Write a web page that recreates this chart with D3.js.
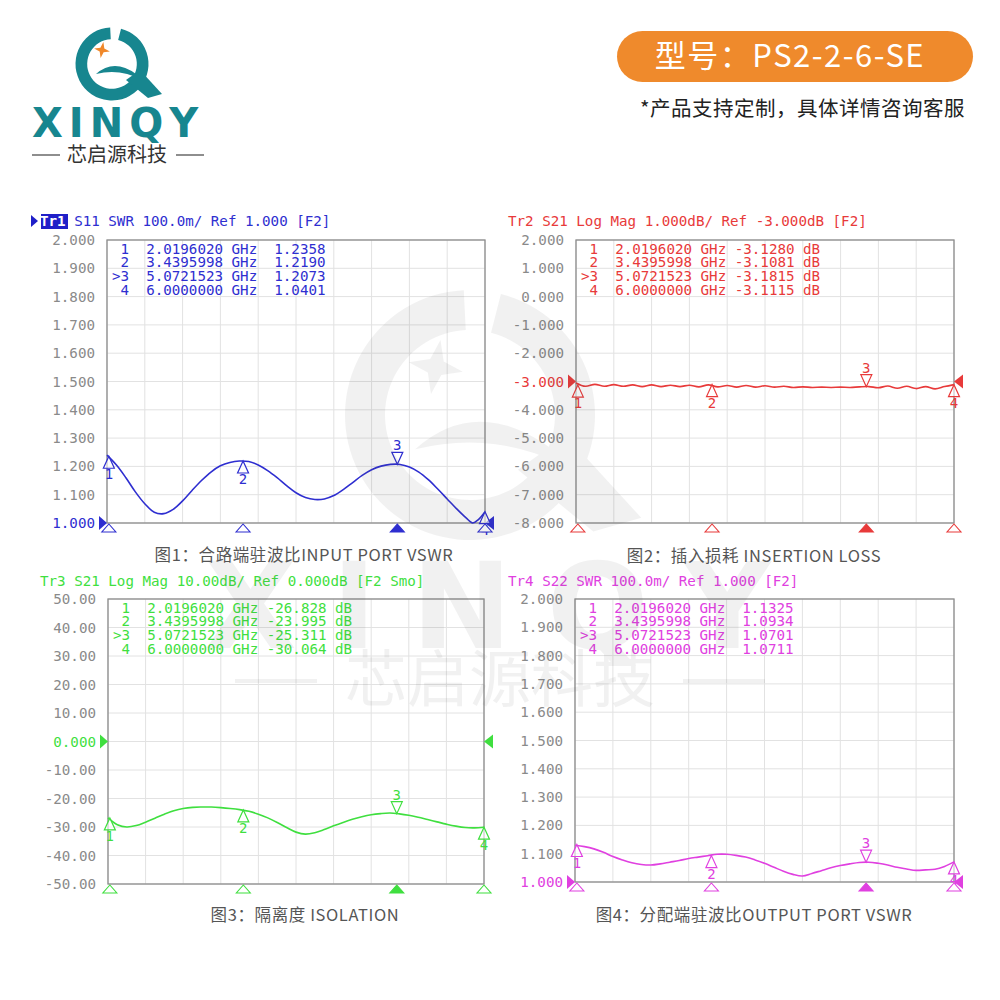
<!DOCTYPE html>
<html><head><meta charset="utf-8">
<script src="https://cdn.jsdelivr.net/npm/d3@7"></script>
<style>body{margin:0;background:#fff}svg{display:block}</style>
</head><body><svg id="c" width="1000" height="1000"></svg>
<script>
// ---------------- DATA ----------------
const freqGrid = [2.0,2.1,2.2,2.3,2.4,2.5,2.6,2.7,2.8,2.9,3.0,3.1,3.2,3.3,3.4,3.5,3.6,3.7,3.8,3.9,4.0,4.1,4.2,4.3,4.4,4.5,4.6,4.7,4.8,4.9,5.0,5.1,5.2,5.3,5.4,5.5,5.6,5.7,5.8,5.9,6.0];
const s11Freq = [2.0,2.1,2.2,2.3,2.4,2.5,2.6,2.7,2.8,2.9,3.0,3.1,3.2,3.3,3.4,3.5,3.6,3.7,3.8,3.9,4.0,4.1,4.2,4.3,4.4,4.5,4.6,4.7,4.8,4.9,5.0,5.1,5.2,5.3,5.4,5.5,5.6,5.7,5.8,5.87,5.93,6.0];
const s11Vals = [1.240,1.205,1.160,1.110,1.068,1.038,1.033,1.048,1.078,1.115,1.150,1.180,1.202,1.214,1.219,1.217,1.205,1.185,1.160,1.132,1.107,1.090,1.083,1.085,1.097,1.118,1.143,1.168,1.188,1.201,1.207,1.207,1.198,1.180,1.153,1.120,1.085,1.050,1.018,1.000,1.012,1.040];
const s21Vals = [-3.05,-3.17,-3.10,-3.17,-3.11,-3.17,-3.12,-3.18,-3.12,-3.18,-3.13,-3.18,-3.13,-3.19,-3.12,-3.19,-3.14,-3.20,-3.14,-3.20,-3.15,-3.20,-3.17,-3.21,-3.19,-3.21,-3.20,-3.21,-3.20,-3.21,-3.19,-3.18,-3.22,-3.16,-3.24,-3.17,-3.25,-3.18,-3.26,-3.18,-3.11];
const isoVals = [-26.8,-29.2,-30.0,-29.5,-28.3,-26.9,-25.5,-24.3,-23.5,-23.1,-23.0,-23.0,-23.2,-23.5,-23.9,-24.5,-25.5,-26.8,-28.4,-30.2,-31.8,-32.5,-32.0,-30.9,-29.6,-28.4,-27.3,-26.4,-25.7,-25.3,-25.1,-25.4,-25.9,-26.6,-27.4,-28.2,-29.0,-29.7,-30.2,-30.3,-30.1];
const s22Vals = [1.130,1.125,1.117,1.105,1.090,1.078,1.068,1.062,1.060,1.064,1.070,1.076,1.083,1.088,1.093,1.098,1.098,1.094,1.088,1.078,1.066,1.052,1.038,1.027,1.021,1.030,1.040,1.050,1.058,1.064,1.069,1.070,1.066,1.060,1.052,1.046,1.041,1.043,1.045,1.055,1.071];

const markerNames = [" 1"," 2",">3"," 4"];
const markerFreqs = ["2.0196020","3.4395998","5.0721523","6.0000000"];
const s11Markers = ["1.2358","1.2190","1.2073","1.0401"];
const s21Markers = ["-3.1280","-3.1081","-3.1815","-3.1115"];
const isoMarkers = ["-26.828","-23.995","-25.311","-30.064"];
const s22Markers = ["1.1325","1.0934","1.0701","1.0711"];

const swrTicks = ["2.000","1.900","1.800","1.700","1.600","1.500","1.400","1.300","1.200","1.100","1.000"];
const s21Ticks = ["2.000","1.000","0.000","-1.000","-2.000","-3.000","-4.000","-5.000","-6.000","-7.000","-8.000"];
const isoTicks = ["50.00","40.00","30.00","20.00","10.00","0.000","-10.00","-20.00","-30.00","-40.00","-50.00"];

const traceTitles = ["S11 SWR 100.0m/ Ref 1.000 [F2]","S21 Log Mag 1.000dB/ Ref -3.000dB [F2]","S21 Log Mag 10.00dB/ Ref 0.000dB [F2 Smo]","S22 SWR 100.0m/ Ref 1.000 [F2]"];
const traceNames = ["Tr1","Tr2","Tr3","Tr4"];
const captions = ["图1：合路端驻波比INPUT PORT VSWR","图2：插入损耗 INSERTION LOSS","图3：隔离度 ISOLATION","图4：分配端驻波比OUTPUT PORT VSWR"];
const refLevels = [1.0, -3.0, 0.0, 1.0];

// ---------------- LAYOUT ----------------
const svg = d3.select("#c");
const mono = "'DejaVu Sans Mono', monospace";
const cjk = "'Noto Sans CJK SC', 'Noto Sans', sans-serif";

const panels = [
  {left:107,right:485,top:240,bottom:523,color:"#2e2ed0",freq:s11Freq,vals:s11Vals,mk:s11Markers,unit:"",ticks:swrTicks,titleX:40,titleY:226,capX:304,capY:561,active:true},
  {left:576,right:954,top:240,bottom:523,color:"#e83a3a",freq:freqGrid,vals:s21Vals,mk:s21Markers,unit:" dB",ticks:s21Ticks,titleX:508,titleY:226,capX:754,capY:562,active:false},
  {left:108,right:484,top:599,bottom:884,color:"#3fdf3f",freq:freqGrid,vals:isoVals,mk:isoMarkers,unit:" dB",ticks:isoTicks,titleX:40,titleY:586,capX:305,capY:921,active:false},
  {left:575,right:954,top:599,bottom:882,color:"#e040e0",freq:freqGrid,vals:s22Vals,mk:s22Markers,unit:"",ticks:swrTicks,titleX:508,titleY:586,capX:754,capY:921,active:false}
];

// ---------------- HEADER ----------------
function drawQ(g, cx, cy, r, fill, starFill){
  const k = r/36.5;
  g.append("path").attr("transform",`translate(${cx},${cy})`)
    .attr("d", d3.arc()({innerRadius:r*0.68,outerRadius:r,startAngle:0.25,endAngle:2*Math.PI-0.05}))
    .attr("fill",fill);
  g.append("path").attr("transform",`translate(${cx},${cy}) scale(${k})`)
    .attr("d","M-16,10 Q2,-6 24,10 L30,16 Q8,4 -16,10 Z").attr("fill",fill);
  g.append("path").attr("transform",`translate(${cx},${cy}) scale(${k})`)
    .attr("d","M14,16 L28,6 L50,30 L36,34 Z").attr("fill",fill);
  const s=8;
  g.append("path").attr("transform",`translate(${cx-10*k},${cy-14*k}) scale(${k}) rotate(10)`)
    .attr("d",`M0,${-s} L${s*0.25},${-s*0.25} L${s},0 L${s*0.25},${s*0.25} L0,${s} L${-s*0.25},${s*0.25} L${-s},0 L${-s*0.25},${-s*0.25} Z`)
    .attr("fill",starFill);
}
const defs = svg.append("defs");
const gr = defs.append("linearGradient").attr("id","nGrad").attr("x1","0").attr("x2","1").attr("y1","0").attr("y2","0");
gr.append("stop").attr("offset","55%").attr("stop-color","#17868f");
gr.append("stop").attr("offset","55%").attr("stop-color","#f0882a");

const header = svg.append("g");
drawQ(header, 112, 64, 36.5, "#17868f", "#f0882a");
const xt = header.append("text").attr("x",32).attr("y",137)
  .attr("font-family","'DejaVu Sans', sans-serif").attr("font-weight","bold").attr("font-size",40)
  .attr("letter-spacing",6).attr("fill","#17868f");
xt.append("tspan").text("XI");
xt.append("tspan").text("N").attr("fill","url(#nGrad)");
xt.append("tspan").text("QY");
header.append("line").attr("x1",32).attr("x2",60).attr("y1",155).attr("y2",155).attr("stroke","#444").attr("stroke-width",1.2);
header.append("line").attr("x1",176).attr("x2",204).attr("y1",155).attr("y2",155).attr("stroke","#444").attr("stroke-width",1.2);
header.append("text").attr("x",117).attr("y",162).attr("text-anchor","middle")
  .attr("font-family",cjk).attr("font-size",20).attr("fill","#333").text("芯启源科技");

header.append("rect").attr("x",617).attr("y",31).attr("width",356).attr("height",51).attr("rx",25.5)
  .attr("fill","#ef8a2c");
header.append("text").attr("x",790).attr("y",67).attr("text-anchor","middle")
  .attr("font-family",cjk).attr("font-size",31).attr("letter-spacing",1.5).attr("fill","#fff").text("型号：PS2-2-6-SE");
header.append("text").attr("x",965).attr("y",116).attr("text-anchor","end")
  .attr("font-family",cjk).attr("font-size",20.5).attr("letter-spacing",0.5).attr("fill","#222").text("*产品支持定制，具体详情咨询客服");

// ---------------- PANELS ----------------
const xScaleBase = d3.scaleLinear().domain([2,6]);
panels.forEach((p,i)=>{
  const g = svg.append("g");
  const x = xScaleBase.copy().range([p.left,p.right]);
  const tickVals = p.ticks.map(Number);
  const y = d3.scaleLinear().domain([d3.min(tickVals), d3.max(tickVals)]).range([p.bottom,p.top]);

  const xg = d3.range(0,11).map(k=>2+k*0.4);
  g.selectAll(".vg").data(xg).join("line")
    .attr("x1",d=>x(d)).attr("x2",d=>x(d)).attr("y1",p.top).attr("y2",p.bottom)
    .attr("stroke","#e2e2e2").attr("stroke-width",1);
  g.selectAll(".hg").data(tickVals).join("line")
    .attr("x1",p.left).attr("x2",p.right).attr("y1",d=>y(d)).attr("y2",d=>y(d))
    .attr("stroke","#e2e2e2").attr("stroke-width",1);
  g.append("rect").attr("x",p.left).attr("y",p.top).attr("width",p.right-p.left).attr("height",p.bottom-p.top)
    .attr("fill","none").attr("stroke","#8c8c8c").attr("stroke-width",1.3);

  g.selectAll(".yl").data(p.ticks).join("text")
    .attr("x",p.left-12).attr("y",d=>y(+d)+5).attr("text-anchor","end")
    .attr("font-family",mono).attr("font-size",14.2)
    .attr("fill",d=>(+d===refLevels[i])?p.color:"#8a8a8a")
    .text(d=>d);

  const ry = y(refLevels[i]);
  g.append("path").attr("d",`M${p.left-8},${ry-7} L${p.left},${ry} L${p.left-8},${ry+7} Z`).attr("fill",p.color);
  g.append("path").attr("d",`M${p.right+9},${ry-7} L${p.right},${ry} L${p.right+9},${ry+7} Z`).attr("fill",p.color);

  const tt = g.append("text").attr("x",p.titleX).attr("y",p.titleY)
    .attr("font-family",mono).attr("font-size",14.2).attr("fill",p.color).attr("xml:space","preserve");
  if(p.active){
    g.insert("rect","text").attr("x",p.titleX+1).attr("y",p.titleY-12).attr("width",27).attr("height",15).attr("fill","#1f1fc8");
    g.append("path").attr("d",`M${p.titleX-9},${p.titleY-11} L${p.titleX-2},${p.titleY-5} L${p.titleX-9},${p.titleY+1} Z`).attr("fill","#1f1fc8");
    tt.append("tspan").attr("fill","#fff").attr("font-weight","bold").text(traceNames[i]);
  } else {
    tt.append("tspan").text(traceNames[i]);
  }
  tt.append("tspan").text(" "+traceTitles[i]);

  markerNames.forEach((m,j)=>{
    const val = p.mk[j].padStart(7," ");
    g.append("text").attr("x",p.left+5).attr("y",p.top+13.5+j*13.7)
      .attr("font-family",mono).attr("font-size",14.2).attr("fill",p.color)
      .attr("xml:space","preserve")
      .text(`${m}  ${markerFreqs[j]} GHz ${val}${p.unit}`);
  });

  const pts = p.freq.map((f,k)=>({f, v:p.vals[k]}));
  const line = d3.line().x(d=>x(d.f)).y(d=>y(d.v)).curve(d3.curveCatmullRom.alpha(0.5));
  g.append("path").attr("d",line(pts)).attr("fill","none").attr("stroke",p.color).attr("stroke-width",1.6);

  markerFreqs.forEach((mf,j)=>{
    const mx = x(+mf), my = y(+p.mk[j]);
    const num = markerNames[j].replace(">","").trim();
    if(j===2){
      g.append("path").attr("d",`M${mx},${my} L${mx-5.5},${my-12} L${mx+5.5},${my-12} Z`)
        .attr("fill","#fff").attr("fill-opacity",0.6).attr("stroke",p.color).attr("stroke-width",1.2);
      g.append("text").attr("x",mx).attr("y",my-14).attr("text-anchor","middle")
        .attr("font-family",mono).attr("font-size",14).attr("fill",p.color).text(num);
    } else {
      g.append("path").attr("d",`M${mx},${my} L${mx-5.5},${my+12} L${mx+5.5},${my+12} Z`)
        .attr("fill","#fff").attr("fill-opacity",0.6).attr("stroke",p.color).attr("stroke-width",1.2);
      g.append("text").attr("x",mx).attr("y",my+23).attr("text-anchor","middle")
        .attr("font-family",mono).attr("font-size",14).attr("fill",p.color).text(num);
    }
    g.append("path").attr("d",`M${mx},${p.bottom+1} L${mx-7},${p.bottom+9} L${mx+7},${p.bottom+9} Z`)
      .attr("fill",j===2?p.color:"#fff").attr("stroke",p.color).attr("stroke-width",1.1);
  });

  g.append("text").attr("x",p.capX).attr("y",p.capY).attr("text-anchor","middle")
    .attr("font-family",cjk).attr("font-size",16.5).attr("letter-spacing",0.6).attr("fill","#555").text(captions[i]);
});

// ---------------- WATERMARK ----------------
const wm = svg.append("g").attr("opacity",0.08);
drawQ(wm, 470, 415, 125, "#555", "#555");
wm.append("text").attr("x",505).attr("y",648).attr("text-anchor","middle")
  .attr("font-family","'DejaVu Sans', sans-serif").attr("font-weight","bold").attr("font-size",120)
  .attr("letter-spacing",35).attr("fill","#555").text("XINQY");
wm.append("text").attr("x",500).attr("y",702).attr("text-anchor","middle")
  .attr("font-family",cjk).attr("font-size",62).attr("fill","#555").text("芯启源科技");
wm.append("rect").attr("x",235).attr("y",679).attr("width",82).attr("height",4).attr("fill","#555");
wm.append("rect").attr("x",683).attr("y",679).attr("width",82).attr("height",4).attr("fill","#555");
</script></body></html>
